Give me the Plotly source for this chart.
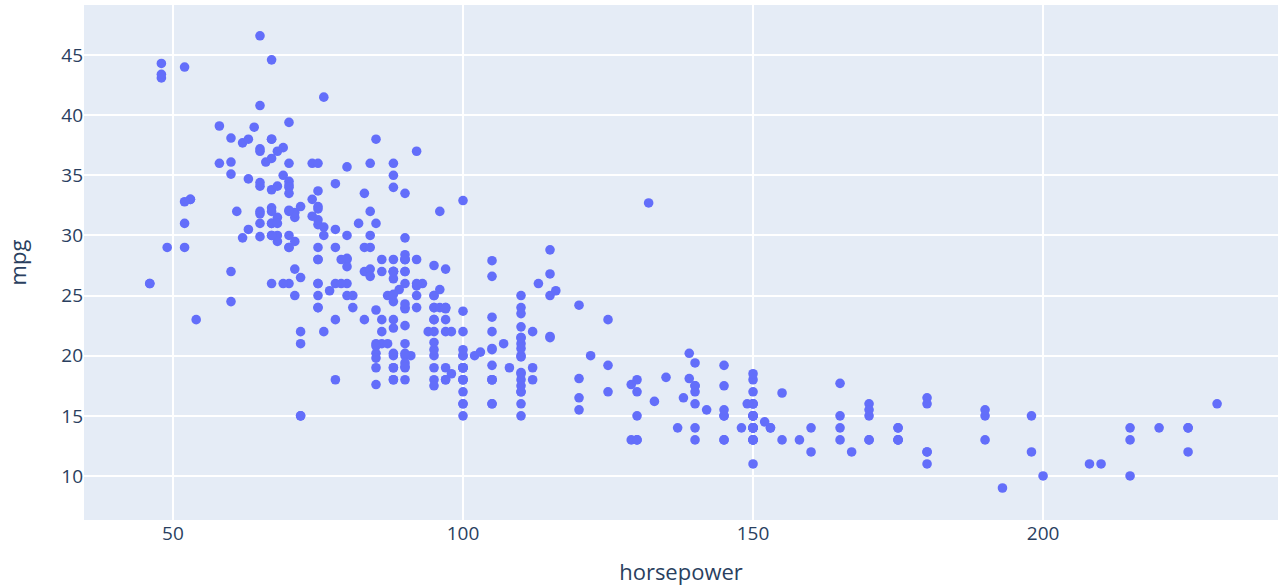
import plotly.graph_objects as go

# horsepower (x) and mpg (y)
horsepower = [
    130,165,150,150,140,198,220,215,225,190,170,160,150,225,
    95,95,97,85,88,46,87,90,95,113,90,215,200,210,193,88,90,95,
    100,105,100,88,100,165,175,153,150,180,170,175,110,72,100,88,86,
    90,70,76,65,69,60,70,95,80,54,90,86,165,175,150,153,150,208,155,160,
    190,97,150,130,140,150,112,76,87,69,86,92,97,80,88,175,150,145,137,150,
    198,150,158,150,215,225,175,105,100,100,88,95,46,150,167,170,180,100,88,72,
    94,90,85,107,90,145,230,49,75,91,112,150,110,122,180,95,
    100,100,67,80,65,75,100,110,105,140,150,150,140,150,83,67,78,52,61,75,75,75,97,
    93,67,95,105,72,72,170,145,150,148,110,105,110,95,110,110,129,75,83,100,
    78,96,71,97,97,70,90,95,88,98,115,53,86,81,92,79,83,140,150,120,
    152,100,105,81,90,52,60,70,53,100,78,110,95,71,70,75,72,102,150,88,
    108,120,180,145,130,150,68,80,58,96,70,145,110,145,130,110,105,100,98,180,
    170,190,149,78,88,75,89,63,83,67,78,97,110,110,48,66,52,70,60,110,
    140,139,105,95,85,88,100,90,105,85,110,120,145,165,139,140,68,95,97,75,
    95,105,85,97,103,125,115,133,71,68,115,85,88,90,110,130,129,138,135,155,
    142,125,150,71,65,80,80,77,125,71,90,70,70,65,69,90,115,115,90,76,
    60,70,65,90,88,90,90,78,90,75,92,75,65,105,65,48,48,67,67,67,
    67,62,132,100,88,
    72,84,84,92,110,84,58,64,60,67,65,62,68,63,65,65,74,
    75,75,100,74,80,76,116,120,110,105,88,85,88,88,88,85,84,90,92,
    74,68,68,63,70,88,75,70,67,67,67,110,85,92,112,96,84,90,86,52,84,79,82,
]

mpg = [
    18,15,18,16,17,15,14,14,14,15,15,14,15,14,
    24,22,18,21,27,26,25,24,25,26,21,10,10,11,9,27,28,25,
    19,16,17,19,18,14,14,14,14,12,13,13,18,22,19,18,23,
    28,30,30,31,35,27,26,24,25,23,20,21,13,14,15,14,17,11,13,12,
    13,19,15,13,13,14,18,22,21,26,22,28,23,28,27,13,14,13,14,15,
    12,13,13,14,13,12,13,18,16,18,18,23,26,11,12,13,12,18,20,21,
    22,18,19,21,26,15,16,29,24,20,19,15,24,20,11,20,
    19,15,31,26,32,25,16,16,18,16,13,14,14,14,29,26,26,31,32,28,24,26,24,
    26,31,19,18,15,15,16,15,16,14,17,16,15,18,21,20,13,29,23,20,
    23,24,25,24,18,29,19,23,23,22,25,33,28,25,25,26,27,17.5,16,15.5,
    14.5,22,22,24,22.5,29,24.5,29,33,20,18,18.5,17.5,29.5,32,28,26.5,20,13,19,
    19,16.5,16.5,13,13,13,31.5,30,36,25.5,33.5,17.5,17,15.5,15,17.5,20.5,19,18.5,16,
    15.5,15.5,16,29,24.5,26,25.5,30.5,33.5,30,30.5,22,21.5,21.5,43.1,36.1,32.8,39.4,36.1,19.9,
    19.4,20.2,19.2,20.5,20.2,25.1,20.5,19.4,20.6,20.8,18.6,18.1,19.2,17.7,18.1,17.5,30,27.5,27.2,30.9,
    21.1,23.2,23.8,23.9,20.3,17,21.6,16.2,31.5,29.5,21.5,19.8,22.3,20.2,20.6,17,17.6,16.5,18.2,16.9,
    15.5,19.2,18.5,31.9,34.1,35.7,27.4,25.4,23,27.2,23.9,34.2,34.5,31.8,37.3,28.4,28.8,26.8,33.5,41.5,
    38.1,32.1,37.2,28,26.4,24.3,19.1,34.3,29.8,31.3,37,32.2,46.6,27.9,40.8,44.3,43.4,36.4,30,44.6,
    33.8,29.8,32.7,23.7,35,
    32.4,27.2,26.6,25.8,23.5,30,39.1,39,35.1,32.3,37,37.7,34.1,34.7,34.4,29.9,33,
    33.7,32.4,32.9,31.6,28.1,30.7,25.4,24.2,22.4,26.6,20.2,17.6,28,27,34,31,29,27,24,
    36,37,31,38,36,36,36,34,38,32,38,25,38,26,22,32,36,27,27,44,32,28,31,
]

x_title = "horsepower"
y_title = "mpg"

fig = go.Figure(
    go.Scatter(
        x=horsepower,
        y=mpg,
        mode="markers",
        marker=dict(color="#636efa", size=9.6),
        showlegend=False,
    )
)

fig.update_layout(
    template="plotly",
    width=1279,
    height=586,
    margin=dict(l=84, r=1, t=5, b=66),
    font=dict(family="Open Sans, verdana, arial, sans-serif", size=19, color="#2a3f5f"),
    plot_bgcolor="#E5ECF6",
    paper_bgcolor="white",
)
fig.update_xaxes(
    title=dict(text=x_title, font=dict(size=22), standoff=20),
    range=[34.66, 240.5],
    tickvals=[50, 100, 150, 200],
    gridcolor="white", gridwidth=1.6, zeroline=False,
    tickfont=dict(size=19),
)
fig.update_yaxes(
    title=dict(text=y_title, font=dict(size=22), standoff=28),
    range=[6.34, 49.16],
    tickvals=[10, 15, 20, 25, 30, 35, 40, 45],
    gridcolor="white", gridwidth=1.6, zeroline=False,
    tickfont=dict(size=19),
)

fig.write_html(
    "out.html",
    config={"displayModeBar": False},
    post_script="document.body.style.margin='0';document.body.style.overflow='hidden';",
)
